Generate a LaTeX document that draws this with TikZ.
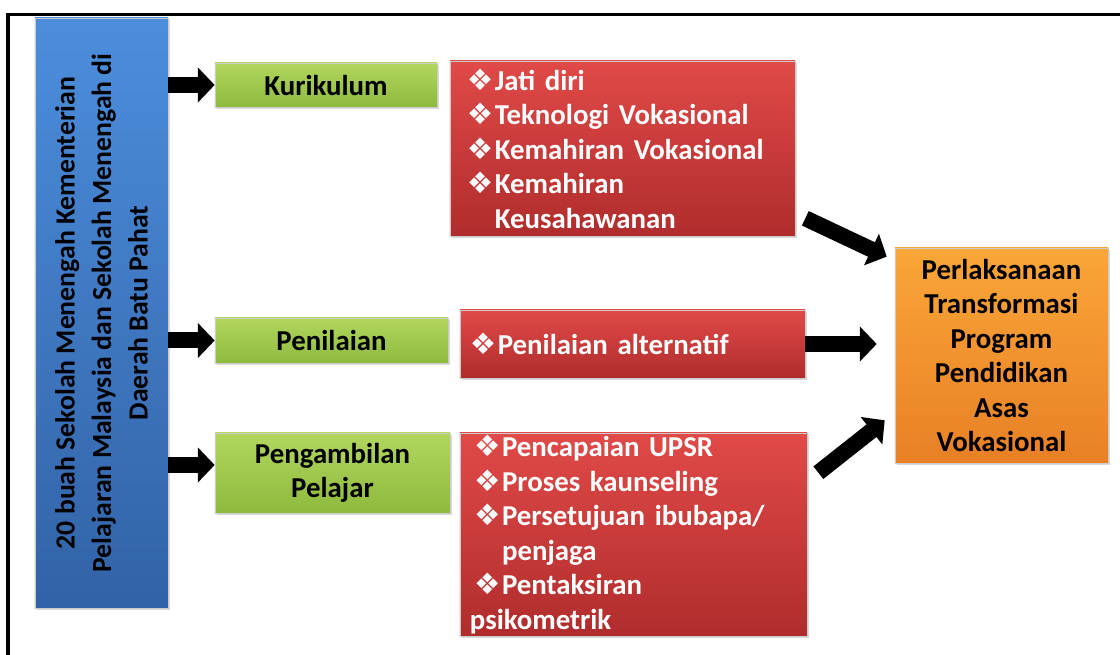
\documentclass[tikz,border=0pt]{standalone}
\usepackage{fontspec}
\setmainfont{Carlito}
\newfontfamily\dejavu{DejaVu Sans}
\usetikzlibrary{arrows.meta,shadows}

\definecolor{blueT}{RGB}{76,142,220}
\definecolor{blueB}{RGB}{50,98,166}
\definecolor{greenT}{RGB}{178,214,94}
\definecolor{greenB}{RGB}{142,186,62}
\definecolor{redT}{RGB}{224,74,72}
\definecolor{redB}{RGB}{176,44,44}
\definecolor{orangeT}{RGB}{250,166,56}
\definecolor{orangeB}{RGB}{232,128,38}

\newcommand{\bul}{{\dejavu\fontsize{21}{21}\selectfont ❖}\hspace{1pt}}
\newcommand{\ind}{\hphantom{\bul}}

\begin{document}
\begin{tikzpicture}[x=0.025cm, y=-0.025cm]

        \def\txtsize{20.5}          % text size in the boxes
        \def\txtskip{24.5}          % line distance in the boxes
        \tikzstyle{box}=[draw=black!20, line width=0.4pt, inner sep=0pt,
                drop shadow={shadow xshift=0.05cm, shadow yshift=-0.06cm, opacity=0.3}]
        \tikzstyle{srcbox}=[box, top color=blueT, bottom color=blueB]
        \tikzstyle{greenbox}=[box, top color=greenT, bottom color=greenB, align=center,
                font=\fontsize{\txtsize}{\txtskip}\selectfont\bfseries]
        \tikzstyle{redbox}=[box, top color=redT, bottom color=redB, align=left, text=white,
                font=\fontsize{\txtsize}{\txtskip}\selectfont\bfseries]
        \tikzstyle{outbox}=[box, top color=orangeT, bottom color=orangeB, align=center,
                font=\fontsize{\txtsize}{\txtskip}\selectfont\bfseries]
        \tikzstyle{blockarrow}=[line width=0.4cm, black, -{Triangle[length=0.42cm, width=0.85cm]}]

        \useasboundingbox (0,0) rectangle (1120,655);

        % Frame
        \draw[line width=0.075cm] (8,655) -- (8,15) -- (1120,15);

        % Draw the source box
        \node[srcbox, minimum width=3.325cm, minimum height=14.75cm] (Sl-1) at (101.5,313) {};
        \node[rotate=90, align=center, font=\fontsize{19.7}{26}\selectfont\bfseries] (Sl-txt) at (Sl-1.center)
                {20 buah Sekolah Menengah Kementerian\\Pelajaran Malaysia dan Sekolah Menengah di\\Daerah Batu Pahat};

        % Draw the green boxes
        \node[greenbox, minimum width=5.55cm, minimum height=1.1cm] (Gl-1) at (326,85) {Kurikulum};
        \node[greenbox, minimum width=5.825cm, minimum height=1.125cm] (Gl-2) at (331.5,340.5) {Penilaian};
        \node[greenbox, minimum width=5.875cm, minimum height=2cm] (Gl-3) at (332.5,473) {Pengambilan\\Pelajar};

        % Draw the red boxes
        \node[redbox, minimum height=4.375cm, inner xsep=0.425cm, text width=7.775cm] (Rl-1) at (622.5,148.5)
                {\bul Jati diri\\ \bul Teknologi Vokasional\\ \bul Kemahiran Vokasional\\ \bul Kemahiran\\ \ind Keusahawanan};
        \node[redbox, minimum height=1.7cm, inner xsep=0.25cm, text width=8.125cm] (Rl-2) at (632.5,344)
                {\bul Penilaian alternatif};
        \node[redbox, minimum height=5.075cm, inner xsep=0.25cm, text width=8.175cm] (Rl-3) at (633.5,534.5)
                {\hspace*{3pt}\bul Pencapaian UPSR\\ \hspace*{3pt}\bul Proses kaunseling\\
                 \hspace*{3pt}\bul Persetujuan ibubapa/\\ \hspace*{3pt}\ind penjaga\\
                 \hspace*{3pt}\bul Pentaksiran\\ psikometrik};

        % Draw the output box
        \node[outbox, minimum width=5.325cm, minimum height=5.375cm] (Ol-1) at (1001.5,355.5)
                {Perlaksanaan\\Transformasi\\Program\\Pendidikan\\Asas\\Vokasional};

        % Connect the boxes
        \foreach \xn/\dy in {1/0, 2/0, 3/0.2}
                \draw[blockarrow] ([yshift=\dy cm]Sl-1.east |- Gl-\xn.west) -- ([yshift=\dy cm]Gl-\xn.west);

        \draw[blockarrow] ([xshift=0.25cm, yshift=0.45cm]Rl-1.south east) -- ([xshift=-0.2cm, yshift=-0.225cm]Ol-1.north west);
        \draw[blockarrow, shorten >=0.45cm] (Rl-2.east) -- (Rl-2.east -| Ol-1.west);
        \draw[blockarrow] ([xshift=0.275cm, yshift=-1cm]Rl-3.north east) -- ([xshift=-0.25cm, yshift=1.075cm]Ol-1.south west);

\end{tikzpicture}
\end{document}
